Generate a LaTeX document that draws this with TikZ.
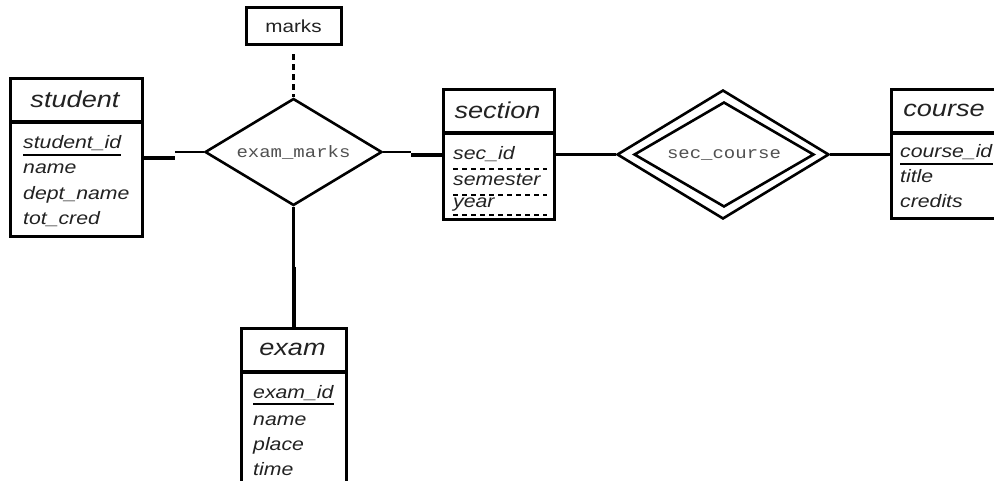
\documentclass[tikz,border=0pt]{standalone}
\usepackage{fontspec}
\setmainfont{Liberation Sans}
\newfontfamily\erfont[FakeStretch=1.18]{Liberation Sans}
\newfontfamily\relfont[FakeStretch=1.15]{Liberation Mono}
\usetikzlibrary{shapes.geometric}
\definecolor{ink}{HTML}{222222}
\definecolor{rellabel}{HTML}{505050}
\begin{document}
\begin{tikzpicture}[x=1pt,y=-1pt,
  entbox/.style={draw, line width=3.2pt, rectangle, inner sep=0pt, anchor=north west},
  ename/.style={font=\erfont\itshape\fontsize{23}{23}\selectfont, text=ink, inner sep=0pt},
  attr/.style={font=\erfont\itshape\fontsize{18}{18}\selectfont, text=ink, anchor=base west, inner sep=0pt},
  rel/.style={draw, diamond, line width=2.6pt, inner sep=0pt, shape aspect=1.7,
    font=\relfont\fontsize{16.5}{16.5}\selectfont, text=rellabel},
  attrbox/.style={draw, line width=3pt, rectangle, inner sep=0pt,
    font=\erfont\fontsize{17.5}{17.5}\selectfont, text=ink},
  divider/.style={line width=3.2pt},
  thinlink/.style={line width=2.3pt},
  thicklink/.style={line width=4pt},
  keyline/.style={line width=1.8pt},
  partkey/.style={line width=1.6pt, dash pattern=on 5pt off 4pt},
  derived/.style={line width=3pt, dash pattern=on 6pt off 4pt},
]
\useasboundingbox (0,0) rectangle (994,481);
\clip (0,0) rectangle (994,481);

% ---------- entity sets ----------
\node[entbox, minimum width=132pt, minimum height=158pt] (student) at (9,77) {};
\draw[divider] ([yshift=-45pt]student.north west) -- ([yshift=-45pt]student.north east);
\node[ename] (student-name) at (75,99) {student};
\node[attr] (sid) at (23,149) {student\_id};
\draw[keyline] ([yshift=-6pt]sid.base west) -- ([yshift=-6pt]sid.base east);
\node[attr] (sname) at (23,174) {name};
\node[attr] (sdept) at (23,200) {dept\_name};
\node[attr] (scred) at (23,225) {tot\_cred};

\node[entbox, minimum width=111pt, minimum height=130pt] (section) at (442,88) {};
\draw[divider] ([yshift=-45pt]section.north west) -- ([yshift=-45pt]section.north east);
\node[ename] (section-name) at (497.5,110) {section};
\node[attr] (secid) at (453,160) {sec\_id};
\draw[partkey] (453,169) -- (547,169);
\node[attr] (sem) at (453,186) {semester};
\draw[partkey] (453,195) -- (547,195);
\node[attr] (yr) at (453,208) {year};
\draw[partkey] (453,215) -- (547,215);

\node[entbox, minimum width=150pt, minimum height=129pt] (course) at (890,88) {};
\draw[divider] ([yshift=-45pt]course.north west) -- ([yshift=-45pt]course.north east);
\node[ename] (course-name) at (944,110) {course};
\node[attr] (cid) at (900,158) {course\_id};
\draw[keyline] ([yshift=-6pt]cid.base west) -- ([yshift=-6pt]cid.base east);
\node[attr] (ctitle) at (900,183) {title};
\node[attr] (ccred) at (900,208) {credits};

\node[entbox, minimum width=105pt, minimum height=180pt] (exam) at (240,327) {};
\draw[divider] ([yshift=-45pt]exam.north west) -- ([yshift=-45pt]exam.north east);
\node[ename] (exam-name) at (292.5,349.5) {exam};
\node[attr] (xid) at (253,398) {exam\_id};
\draw[keyline] ([yshift=-6pt]xid.base west) -- ([yshift=-6pt]xid.base east);
\node[attr] (xname) at (253,425) {name};
\node[attr] (xplace) at (253,450) {place};
\node[attr] (xtime) at (253,475) {time};

% ---------- relationship sets ----------
\node[rel, minimum width=177pt, minimum height=107pt] (em) at (293.5,152) {exam\_marks};
\node[attrbox, minimum width=95pt, minimum height=37pt] (marks) at (293.5,26.5) {marks};

\node[rel, minimum width=212pt, minimum height=129pt] (sc) at (723,154.5) {};
\node[rel, minimum width=180pt, minimum height=105pt] (sc-inner) at (724,154.5) {sec\_course};

% ---------- connectors ----------
\draw[thicklink] (student.east) -- ++(31,0) coordinate (sj);
\draw[thinlink] (sj |- em.west) -- (em.west);
\draw[thinlink] (em.east) -- ++(28,0) coordinate (ej);
\draw[thicklink] (ej |- section.west) -- (section.west);
\draw[thinlink] (em.south) -- ++(0,60) coordinate (xj);
\draw[thicklink] (xj -| exam.north) -- (exam.north);
\draw[derived, shorten <=8pt] (marks.south) -- (em.north);
\draw[thinlink] (section.east) -- (section.east -| sc.west);
\draw[thinlink] (sc.east) -- (sc.east -| course.west);
\end{tikzpicture}
\end{document}
